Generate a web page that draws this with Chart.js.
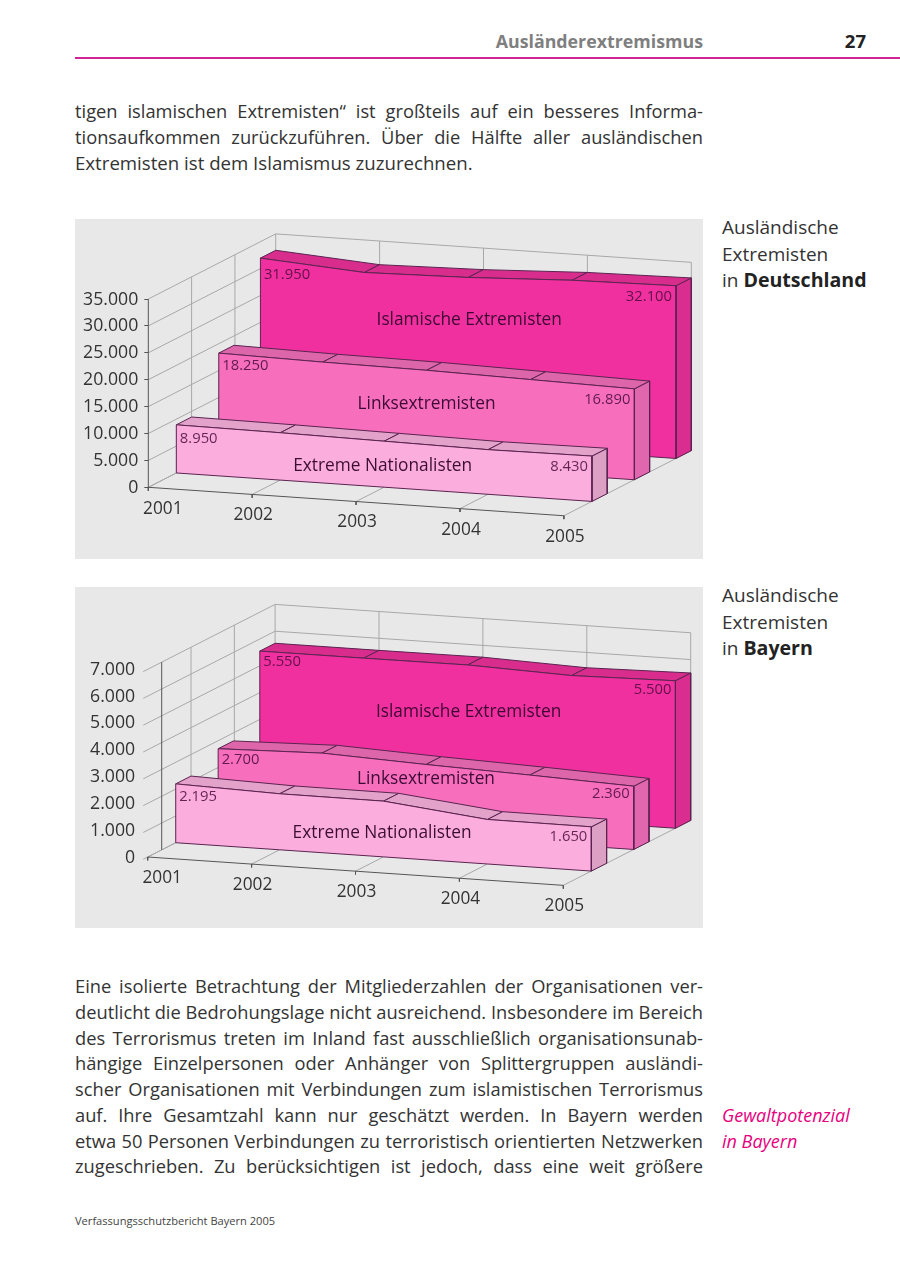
<!DOCTYPE html>
<html lang="de"><head><meta charset="utf-8">
<script src="https://cdn.jsdelivr.net/npm/chart.js@4/dist/chart.umd.min.js"></script>
<style>
html,body{margin:0;padding:0;background:#fff;}
body{position:relative;width:900px;height:1272px;overflow:hidden;font-family:"Open Sans","Noto Sans",sans-serif;color:#333;}
.t{position:absolute;line-height:26px;height:26px;font-size:18.65px;white-space:normal;}
.j{left:75px;width:628px;text-align:justify;text-align-last:justify;font-size:18.3px;}
.l{left:75px;width:640px;}
.s{left:722px;width:178px;white-space:nowrap;font-size:19px;}
.s b{font-weight:700;color:#222;font-size:19.6px}
.m{color:#e6007e;font-style:italic;font-size:18px;}
canvas{position:absolute;left:75px;background:#e8e8e8;display:block;}
</style></head><body>
<div class="t" style="left:403px;width:300px;text-align:right;top:28px;font-weight:700;color:#7f7f7f;font-size:17.8px;">Ausländerextremismus</div>
<div class="t" style="left:816px;width:50px;text-align:right;top:28px;font-weight:700;color:#222;font-size:18.5px;">27</div>
<div style="position:absolute;left:75px;top:57px;width:825px;height:1.5px;background:#cf2596"></div>

<div class="t j" style="top:98px">tigen islamischen Extremisten“ ist großteils auf ein besseres Informa-</div>
<div class="t j" style="top:124px">tionsaufkommen zurückzuführen. Über die Hälfte aller ausländischen</div>
<div class="t l" style="top:150px">Extremisten ist dem Islamismus zuzurechnen.</div>

<canvas id="chartDE" width="628" height="340" style="top:219px;width:628px;height:340px"></canvas>
<div class="t s" style="top:214px">Ausländische</div>
<div class="t s" style="top:241px">Extremisten</div>
<div class="t s" style="top:267px">in <b>Deutschland</b></div>

<canvas id="chartBY" width="628" height="341" style="top:587px;width:628px;height:341px"></canvas>
<div class="t s" style="top:582px">Ausländische</div>
<div class="t s" style="top:609px">Extremisten</div>
<div class="t s" style="top:635px">in <b>Bayern</b></div>

<div class="t j" style="top:973px">Eine isolierte Betrachtung der Mitgliederzahlen der Organisationen ver-</div>
<div class="t j" style="top:999px">deutlicht die Bedrohungslage nicht ausreichend. Insbesondere im Bereich</div>
<div class="t j" style="top:1025px">des Terrorismus treten im Inland fast ausschließlich organisationsunab-</div>
<div class="t j" style="top:1050px">hängige Einzelpersonen oder Anhänger von Splittergruppen ausländi-</div>
<div class="t j" style="top:1076px">scher Organisationen mit Verbindungen zum islamistischen Terrorismus</div>
<div class="t j" style="top:1102px">auf. Ihre Gesamtzahl kann nur geschätzt werden. In Bayern werden</div>
<div class="t j" style="top:1128px">etwa 50 Personen Verbindungen zu terroristisch orientierten Netzwerken</div>
<div class="t j" style="top:1153px">zugeschrieben. Zu berücksichtigen ist jedoch, dass eine weit größere</div>
<div class="t s m" style="top:1102px">Gewaltpotenzial</div>
<div class="t s m" style="top:1128px">in Bayern</div>
<div class="t" style="left:75px;top:1208px;font-size:11.1px;color:#444;">Verfassungsschutzbericht Bayern 2005</div>

<script>
// ---------- data ----------
const years = ['2001','2002','2003','2004','2005'];
const seriesNames = ['Extreme Nationalisten','Linksextremisten','Islamische Extremisten'];

const deNationalisten = [8950, 8800, 8550, 8300, 8430];
const deLinks         = [18250, 17900, 17700, 17300, 16890];
const deIslam         = [31950, 30600, 31000, 31800, 32100];
const deTicks      = [0, 5000, 10000, 15000, 20000, 25000, 30000, 35000];
const deTickLabels = ['0','5.000','10.000','15.000','20.000','25.000','30.000','35.000'];

const byNationalisten = [2195, 2090, 2080, 1660, 1650];
const byLinks         = [2700, 2800, 2640, 2510, 2360];
const byIslam         = [5550, 5550, 5560, 5430, 5500];
const byTicks      = [0, 1000, 2000, 3000, 4000, 5000, 6000, 7000];
const byTickLabels = ['0','1.000','2.000','3.000','4.000','5.000','6.000','7.000'];

// ---------- styles ----------
const FONT = '"Open Sans","Noto Sans",sans-serif';
const rowStyles = [
  {face:'#fbaedd', top:'#e3a2c9', side:'#dba0c4'},
  {face:'#f76fbc', top:'#dd66aa', side:'#e067ad'},
  {face:'#f1309f', top:'#d82d8d', side:'#d92e90'}
];
const EDGE = '#5a2350', GRID = '#a8a8a8', AXIS = '#555555';
const ROW_DEPTH = [0.22, 0.553, 0.88], ROW_THICK = 0.12;
const WALL_STEPS = [0.34, 0.68];
const NAME_NUDGE = [-1.5, 0, 1];
const PX_PER_CAT = 103.9, DEPTH_X_PX = 127.4, DEPTH_UP = 65/188, CAT_DOWN = 7.1/188;

function fmt(v){ return String(v).replace(/\B(?=(\d{3})+$)/g,'.'); }

function build(id, cfg){
  const canvas = document.getElementById(id);
  const W = canvas.width, H = canvas.height;
  const top = cfg.ticks[cfg.ticks.length-1];
  const ppv = cfg.axisPx / top;
  const DX = DEPTH_X_PX / PX_PER_CAT;
  const P = (c,d,v) => ({x: c + d*DX, y: v + (d*DEPTH_UP - c*CAT_DOWN)*top});
  const last = years.length-1;
  const ds = [];
  const line = (pts,color,w) => ds.push({data:pts,borderColor:color,borderWidth:w,fill:false,pointRadius:0,tension:0,clip:false});
  const poly = (pts,color) => ds.push({data:pts.concat([pts[0]]),borderColor:EDGE,borderWidth:1,backgroundColor:color,fill:'shape',pointRadius:0,tension:0,clip:false,borderJoinStyle:'round'});

  // walls and floor
  cfg.ticks.forEach(v => line([P(0,cfg.wallFront,v),P(0,1,v),P(last,1,v)],GRID,1));
  WALL_STEPS.forEach(d => line([P(0,d,0),P(0,d,top)],GRID,1));
  years.forEach((y,c) => line([P(c,1,0),P(c,1,top)],GRID,1));
  years.forEach((y,c) => line([P(c,0,0),P(c,1,0)],GRID,1));
  // axes
  line([P(0,cfg.axisDepth,0),P(0,cfg.axisDepth,top)],AXIS,1);
  line([P(0,0,0),P(last,0,0)],AXIS,1);
  years.forEach((y,c) => line([P(c,0,0),P(c,0,-top*0.018)],AXIS,1));

  // ribbons back to front
  [2,1,0].forEach(r => {
    const vals = cfg.rows[r], d = ROW_DEPTH[r], e = d + ROW_THICK, st = rowStyles[r];
    poly([P(last,d,0),P(last,d,vals[last]),P(last,e,vals[last]),P(last,e,0)],st.side);
    for(let c=0;c<last;c++) poly([P(c,d,vals[c]),P(c+1,d,vals[c+1]),P(c+1,e,vals[c+1]),P(c,e,vals[c])],st.top);
    const front = vals.map((v,c)=>P(c,d,v));
    const base = vals.map((v,c)=>P(last-c,d,0));
    poly(front.concat(base),st.face);
  });

  const textPlugin = {id:'texts', afterDatasetsDraw(chart){
    const g = chart.ctx, xs = chart.scales.x, ys = chart.scales.y;
    const px = p => ({x:xs.getPixelForValue(p.x), y:ys.getPixelForValue(p.y)});
    g.save(); g.textBaseline='middle';
    // years
    g.font = '17.3px '+FONT; g.fillStyle='#333'; g.textAlign='center';
    years.forEach((y,c)=>{ const o=px(P(c,0,0)); g.fillText(y,o.x+(c===0?14.5:1),o.y+(c===0?21.5:21)); });
    // value labels at ends of each ribbon
    g.font='14.8px '+FONT; g.fillStyle='rgba(70,10,60,.85)';
    cfg.rows.forEach((vals,r)=>{
      const a=px(P(0,ROW_DEPTH[r],vals[0])), b=px(P(last,ROW_DEPTH[r],vals[last]));
      g.textAlign='left';  g.fillText(fmt(vals[0]),a.x+3.5,a.y+cfg.firstDy[r]);
      g.textAlign='right'; g.fillText(fmt(vals[last]),b.x-4,b.y+cfg.lastDy[r]);
    });
    // series names
    g.font='17.3px '+FONT; g.textAlign='center'; g.fillStyle='rgba(50,5,45,.95)';
    seriesNames.forEach((n,r)=>{ const p=px(P(2,ROW_DEPTH[r],cfg.nameAt[r])); g.fillText(n,p.x+NAME_NUDGE[r],p.y+1); });
    g.restore();
  }};

  return new Chart(canvas,{
    type:'line',
    data:{datasets:ds.reverse()},
    plugins:[textPlugin],
    options:{
      responsive:false, animation:false, events:[],
      layout:{padding:0,autoPadding:false},
      plugins:{legend:{display:false},tooltip:{enabled:false},title:{display:false}},
      scales:{
        x:{type:'linear',display:false,min:0,max:(W-cfg.axisX)/PX_PER_CAT},
        y:{type:'linear',position:'left',min:-(H-cfg.zeroY)/ppv,max:cfg.zeroY/ppv,
           afterBuildTicks(s){ s.ticks = cfg.ticks.map(v=>({value:v})); },
           afterFit(s){ s.width = cfg.axisX; s.paddingTop = 0; s.paddingBottom = 0; },
           border:{display:false},
           grid:{display:cfg.tickMarks,drawOnChartArea:false,drawTicks:cfg.tickMarks,tickLength:4,color:AXIS},
           ticks:{autoSkip:false,maxRotation:0,padding:cfg.tickMarks?6:12.5,color:'#333',labelOffset:0.5,
                  font:{family:FONT,size:17.7},callback:(v,i)=>cfg.tickLabels[i]}}
      }
    }
  });
}

build('chartDE',{
  rows:[deNationalisten,deLinks,deIslam], ticks:deTicks, tickLabels:deTickLabels,
  axisPx:188.3, zeroY:268.3, axisX:73.3, axisDepth:0, wallFront:0, tickMarks:true,
  firstDy:[14,12.5,17], lastDy:[11,11,11], nameAt:[4130,11670,23330]
});
build('chartBY',{
  rows:[byNationalisten,byLinks,byIslam], ticks:byTicks, tickLabels:byTickLabels,
  axisPx:187.7, zeroY:270, axisX:72.7, axisDepth:0.11, wallFront:-0.035, tickMarks:false,
  firstDy:[13,11,11], lastDy:[10,8,9], nameAt:[936,2130,3830]
});
</script>
</body></html>
